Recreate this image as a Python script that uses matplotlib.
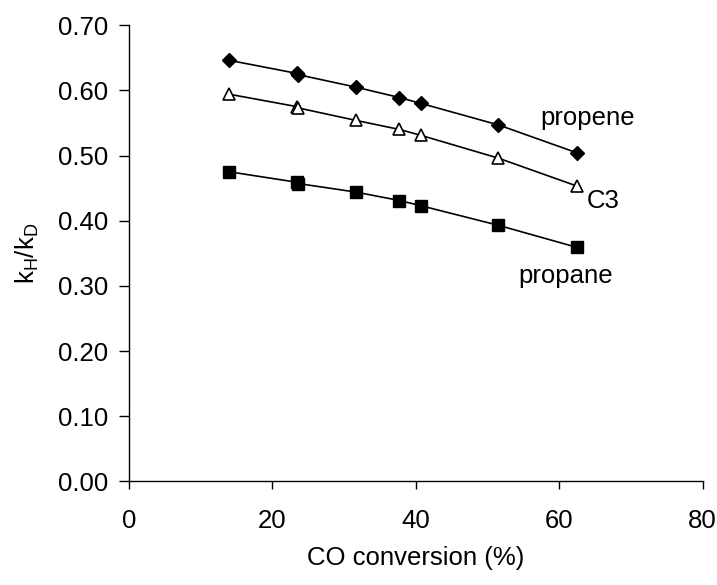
import matplotlib.pyplot as plt

plt.rcParams['font.family'] = ['Liberation Sans', 'DejaVu Sans']

# CO conversion (%) and isotope effect kH/kD for each product
conversion = [14.0, 23.4, 23.6, 31.6, 37.7, 40.7, 51.5, 62.5]
propene = [0.646, 0.626, 0.624, 0.605, 0.589, 0.580, 0.547, 0.504]
c3 = [0.594, 0.575, 0.573, 0.554, 0.540, 0.531, 0.496, 0.453]
propane = [0.475, 0.459, 0.457, 0.444, 0.431, 0.423, 0.393, 0.359]

xticks = [0, 20, 40, 60, 80]
yticks = [0.0, 0.1, 0.2, 0.3, 0.4, 0.5, 0.6, 0.7]

fs = 18.5

fig = plt.figure(figsize=(7.17, 5.85), dpi=100)
ax = fig.add_axes([0.18, 0.177, 0.80, 0.78])

ax.plot(conversion, propene, color='black', lw=1.2, marker='D', ms=7,
        mfc='black', mec='black')
ax.plot(conversion, c3, color='black', lw=1.2, marker='^', ms=9,
        mfc='white', mec='black', mew=1.2)
ax.plot(conversion, propane, color='black', lw=1.2, marker='s', ms=8,
        mfc='black', mec='black')

ax.text(57.4, 0.558, 'propene', fontsize=fs, va='center', ha='left')
ax.text(63.9, 0.430, 'C3', fontsize=fs, va='center', ha='left')
ax.text(54.3, 0.315, 'propane', fontsize=fs, va='center', ha='left')

ax.set_xlim(0, 80)
ax.set_ylim(0, 0.7)
ax.set_xticks(xticks)
ax.set_yticks(yticks)
ax.set_yticklabels([f'{v:.2f}' for v in yticks])
ax.tick_params(direction='out', width=1, labelsize=fs, colors='black')
ax.tick_params(axis='y', length=7.2, pad=8)
ax.tick_params(axis='x', length=6, pad=14)

for side in ['top', 'right']:
    ax.spines[side].set_visible(False)
for side in ['left', 'bottom']:
    ax.spines[side].set_linewidth(1)

ax.set_xlabel('CO conversion (%)', fontsize=fs, labelpad=9)
ax.set_ylabel(r'k$_\mathregular{H}$/k$_\mathregular{D}$', fontsize=fs, labelpad=12)

fig.savefig('out.png', dpi=100)
